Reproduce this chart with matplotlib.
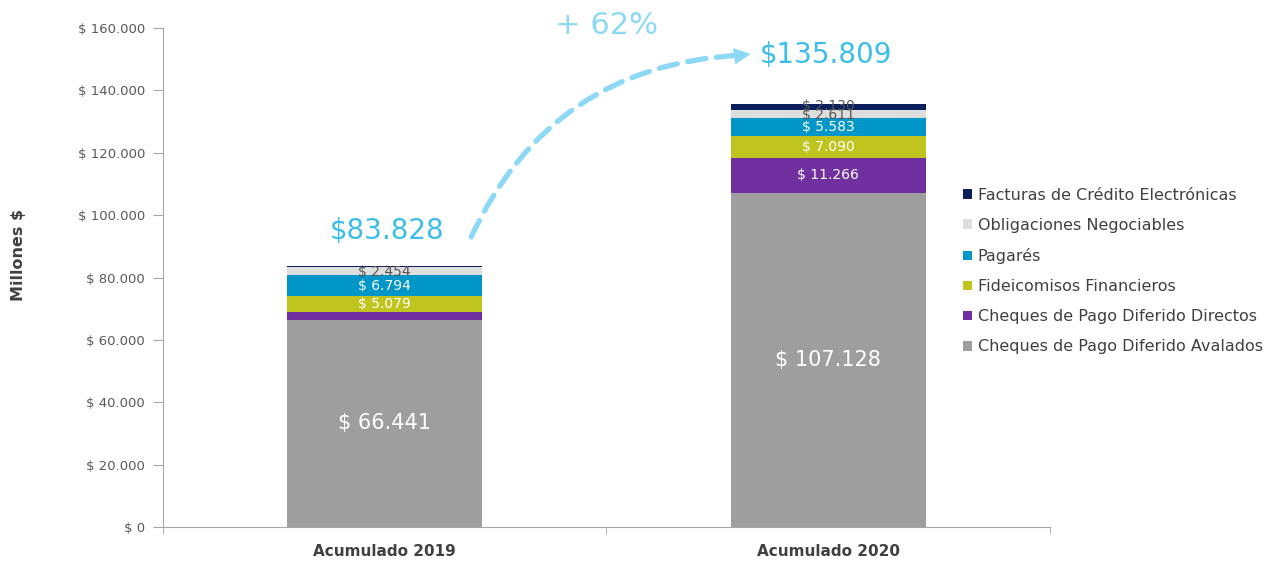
import numpy as np
import matplotlib
matplotlib.use('Agg')
import matplotlib.pyplot as plt
from matplotlib.patches import FancyArrowPatch

plt.rcParams['font.family'] = ['DejaVu Sans']

categories = ['Acumulado 2019', 'Acumulado 2020']
series = ['Cheques de Pago Diferido Avalados', 'Cheques de Pago Diferido Directos',
          'Fideicomisos Financieros', 'Pagarés', 'Obligaciones Negociables',
          'Facturas de Crédito Electrónicas']
avalados = [66441, 107128]
directos = [2460, 11266]
fideicomisos = [5079, 7090]
pagares = [6794, 5583]
obligaciones = [2454, 2611]
facturas = [600, 2130]
totals = ['$83.828', '$135.809']
growth = '+ 62%'
yticks = [0, 20000, 40000, 60000, 80000, 100000, 120000, 140000, 160000]

colors = ['#9E9E9E', '#7030A0', '#BFC41F', '#0096C8', '#DEDEDE', '#0B1F5C']
data = [avalados, directos, fideicomisos, pagares, obligaciones, facturas]


def fmt(v):
    return '$ ' + f'{v:,.0f}'.replace(',', '.')


fig = plt.figure(figsize=(12.82, 5.62), dpi=100)
ax = fig.add_axes([0.1271, 0.0623, 0.6919, 0.8877])

x = np.arange(len(categories))
width = 0.44
bottom = np.zeros(len(categories))
handles = []
for i, (vals, col) in enumerate(zip(data, colors)):
    vals = np.array(vals, dtype=float)
    b = ax.bar(x, vals, width, bottom=bottom, color=col, label=series[i])
    handles.append(b)
    for j, v in enumerate(vals):
        yc = bottom[j] + v / 2
        if i == 0:
            ax.text(x[j], yc, fmt(v), ha='center', va='center', color='white', fontsize=15)
        elif i == 5:
            if j == 1:
                ax.text(x[j], yc + 300, fmt(v), ha='center', va='center', color='#555555', fontsize=10)
        elif i == 4:
            ax.text(x[j], yc - 200, fmt(v), ha='center', va='center', color='#555555', fontsize=10)
        elif i == 1 and j == 0:
            pass
        else:
            ax.text(x[j], yc, fmt(v), ha='center', va='center', color='white', fontsize=10)
    bottom += vals

ax.set_xlim(-0.5, 1.5)
ax.set_ylim(0, 160000)
ax.set_yticks(yticks)
ax.set_yticklabels([fmt(t) for t in yticks], color='#595959', fontsize=9.5)
ax.set_xticks(x)
ax.set_xticklabels(categories, fontweight='bold', color='#404040', fontsize=11)
ax.set_xticks([-0.5, 0.5, 1.5], minor=True)
ax.tick_params(axis='x', which='major', length=0, pad=12)
ax.tick_params(axis='x', which='minor', length=5, color='#A6A6A6', direction='out')
ax.tick_params(axis='y', length=7, color='#A6A6A6', pad=6)
for s in ['top', 'right']:
    ax.spines[s].set_visible(False)
for s in ['left', 'bottom']:
    ax.spines[s].set_color('#A6A6A6')
ax.set_ylabel('Millones $', fontweight='bold', color='#404040', fontsize=11.5)
ax.yaxis.set_label_coords(-0.154, 0.545)

# totals and growth annotation
ax.text(0.005, bottom[0] + 11000, totals[0], ha='center', va='center', color='#3DBDEC', fontsize=20)
ax.text(0.995, bottom[1] + 15500, totals[1], ha='center', va='center', color='#3DBDEC', fontsize=20)
ax.text(0.5, 160800, growth, ha='center', va='center', color='#8DD8F4', fontsize=22)
curve = FancyArrowPatch((0.195, 93000), (0.80, 151300),
                        connectionstyle='arc3,rad=-0.3', arrowstyle='-',
                        color='#8DD8F4', lw=3.8, linestyle=(0, (3.5, 2)),
                        shrinkA=0, shrinkB=0, clip_on=False)
ax.add_patch(curve)
ax.annotate('', xy=(0.825, 151700), xytext=(0.79, 151000), annotation_clip=False,
            arrowprops=dict(arrowstyle='-|>,head_length=0.6,head_width=0.3', color='#8DD8F4',
                            lw=0, mutation_scale=20, shrinkA=0, shrinkB=0))

leg = ax.legend(handles[::-1], series[::-1], loc='center left', bbox_to_anchor=(0.886, 0.513),
                frameon=False, fontsize=11.5, handlelength=0.55, handleheight=0.55,
                handletextpad=0.35, labelspacing=0.95)
for t in leg.get_texts():
    t.set_color('#404040')

fig.savefig('out.png', dpi=100)
